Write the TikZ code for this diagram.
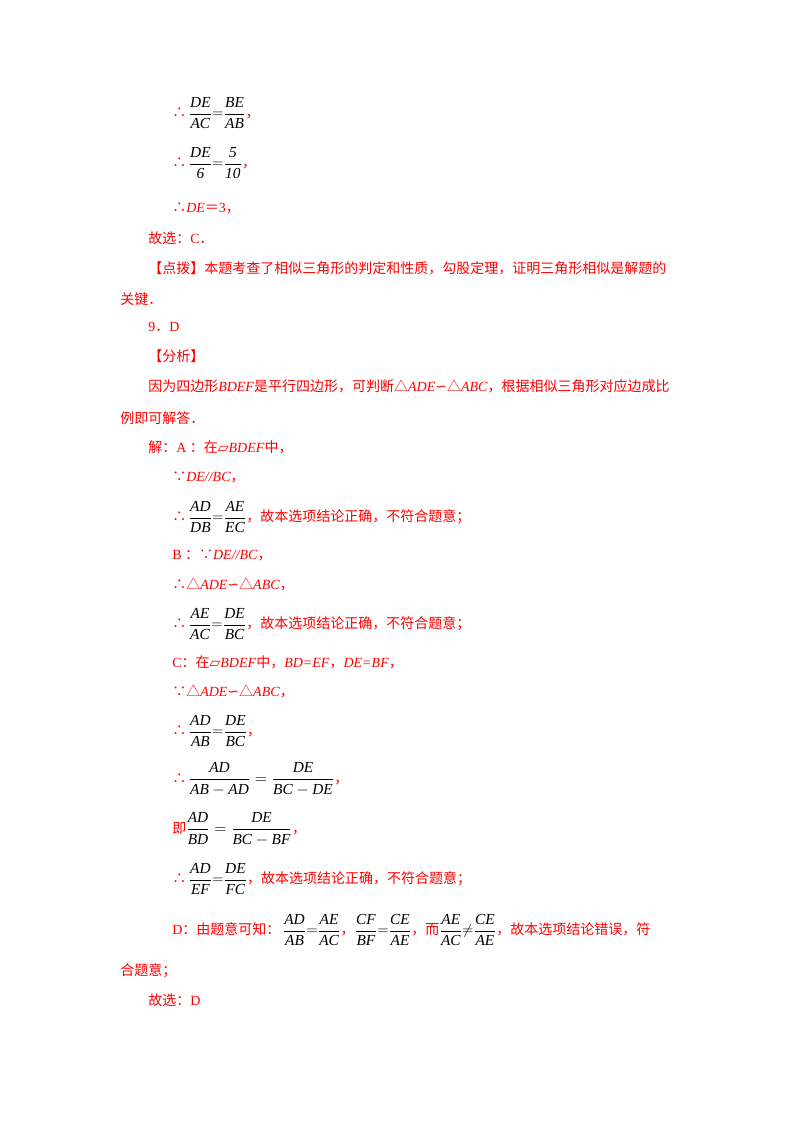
\documentclass[tikz,border=0pt]{standalone}
\usepackage{amsmath}
\usepackage{fontspec}
\setmainfont{Liberation Serif}
\newfontfamily\cjk{Noto Sans CJK SC}
\newfontfamily\djv{DejaVu Sans}
\definecolor{rd}{RGB}{255,0,0}
\newcommand{\cf}[2]{{\color{black}\fontsize{11.5}{13}\selectfont$\dfrac{\mathit{#1}}{\mathit{#2}}$}}
\newcommand{\eq}{{\color{black}$=$}}
\newcommand{\pg}{{\djv\itshape ▱}}
\newcommand{\sm}{{\djv ∽}}
\newcommand{\ig}[1]{\textit{#1}}
\newcommand{\cm}{{\cjk ，}}
\begin{document}
\begin{tikzpicture}[x=0.75pt,y=-0.75pt,
  ln/.style={anchor=west,inner sep=0pt,text=rd,font=\fontsize{10.5}{12}\selectfont}]
\useasboundingbox (0,0) rectangle (800,1132);
\node[ln] (l1) at (172,113) {{\cjk ∴}\,\cf{DE}{AC}\eq\cf{BE}{AB}\cm};
\node[ln] (l2) at (172,163) {{\cjk ∴}\,\cf{DE}{6}\eq\cf{5}{10}\cm};
\node[ln] (l3) at (172,208) {{\cjk ∴}\ig{DE}{\cjk ＝}3\cm};
\node[ln] (l4) at (148,238) {{\cjk 故选：}C{\cjk ．}};
\node[ln] (l5) at (148,268) {\cjk 【点拨】本题考查了相似三角形的判定和性质，勾股定理，证明三角形相似是解题的};
\node[ln] (l6) at (120,299) {\cjk 关键．};
\node[ln] (l7) at (148,327) {9{\cjk ．}D};
\node[ln] (l8) at (148,356) {\cjk 【分析】};
\node[ln] (l9) at (148,386) {{\cjk 因为四边形}\ig{BDEF}{\cjk 是平行四边形，可判断△}\ig{ADE}\sm{\cjk △}\ig{ABC}{\cjk ，根据相似三角形对应边成比}};
\node[ln] (l10) at (120,418) {\cjk 例即可解答．};
\node[ln] (l11) at (148,447) {{\cjk 解：}A {\cjk ：在}\pg\ig{BDEF}{\cjk 中，}};
\node[ln] (l12) at (172,477) {{\cjk ∵}\ig{DE//BC}\cm};
\node[ln] (l13) at (172,517) {{\cjk ∴}\,\cf{AD}{DB}\eq\cf{AE}{EC}{\cjk ，故本选项结论正确，不符合题意；}};
\node[ln] (l14) at (172,555) {B {\cjk ：∵}\ig{DE//BC}\cm};
\node[ln] (l15) at (172,584) {{\cjk ∴△}\ig{ADE}\sm{\cjk △}\ig{ABC}\cm};
\node[ln] (l16) at (172,624) {{\cjk ∴}\,\cf{AE}{AC}\eq\cf{DE}{BC}{\cjk ，故本选项结论正确，不符合题意；}};
\node[ln] (l17) at (172,662) {C{\cjk ：在}\pg\ig{BDEF}{\cjk 中，}\ig{BD=EF}\cm\ig{DE=BF}\cm};
\node[ln] (l18) at (172,691) {{\cjk ∵△}\ig{ADE}\sm{\cjk △}\ig{ABC}\cm};
\node[ln] (l19) at (172,731) {{\cjk ∴}\,\cf{AD}{AB}\eq\cf{DE}{BC}\cm};
\node[ln] (l20) at (172,779) {{\cjk ∴}\,{\color{black}\fontsize{11.5}{13}\selectfont$\dfrac{\mathit{AD}}{\mathit{AB}-\mathit{AD}}=\dfrac{\mathit{DE}}{\mathit{BC}-\mathit{DE}}$}\cm};
\node[ln] (l21) at (172,829) {{\cjk 即}{\color{black}\fontsize{11.5}{13}\selectfont$\dfrac{\mathit{AD}}{\mathit{BD}}=\dfrac{\mathit{DE}}{\mathit{BC}-\mathit{BF}}$}\cm};
\node[ln] (l22) at (172,879) {{\cjk ∴}\,\cf{AD}{EF}\eq\cf{DE}{FC}{\cjk ，故本选项结论正确，不符合题意；}};
\node[ln] (l23) at (172,930) {D{\cjk ：由题意可知：}\,\cf{AD}{AB}\eq\cf{AE}{AC}\cm\cf{CF}{BF}\eq\cf{CE}{AE}{\cjk ，而}\cf{AE}{AC}{\color{black}$\neq$}\cf{CE}{AE}{\cjk ，故本选项结论错误，符}};
\node[ln] (l24) at (120,971) {\cjk 合题意；};
\node[ln] (l25) at (148,1000) {{\cjk 故选：}D};
\end{tikzpicture}
\end{document}
